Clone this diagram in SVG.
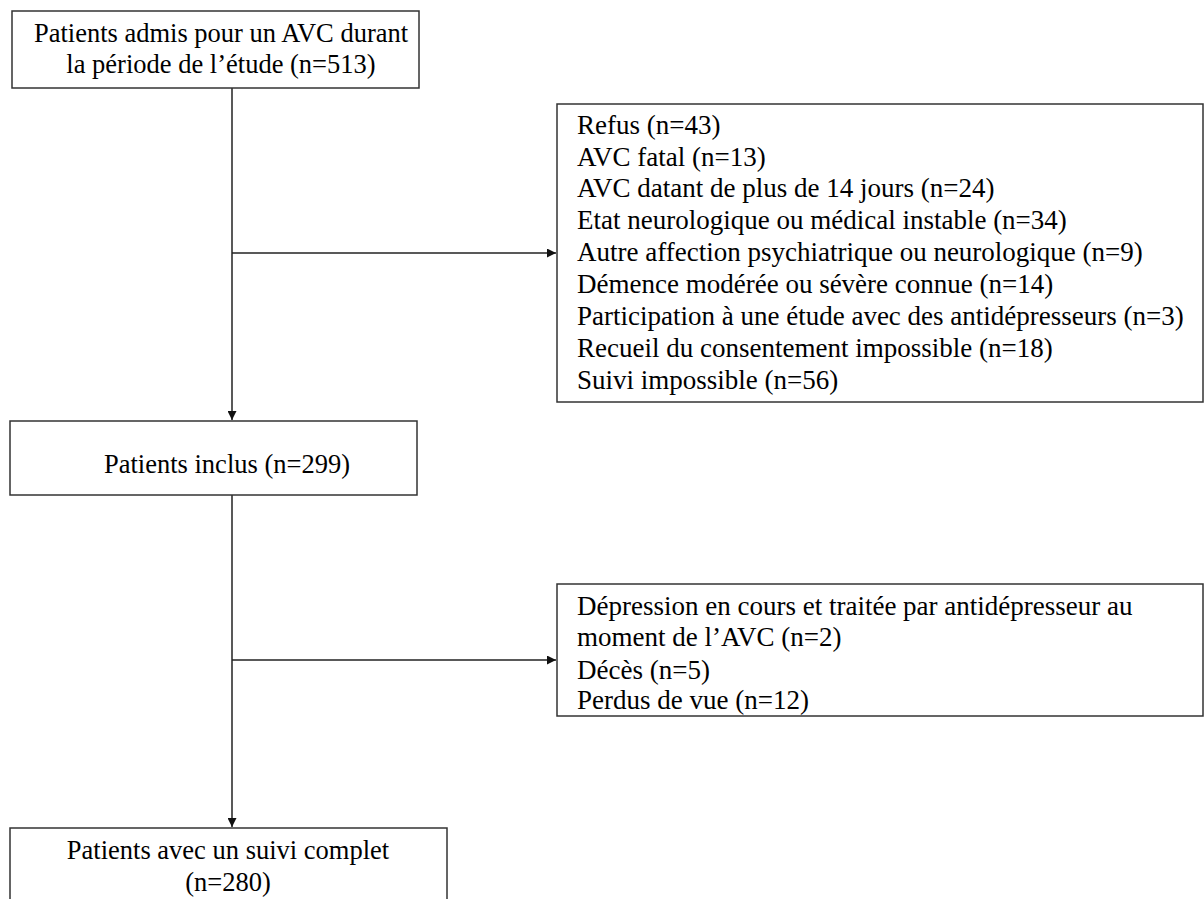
<svg xmlns="http://www.w3.org/2000/svg" width="1204" height="899" viewBox="0 0 1204 899">
<style>
.box{fill:#fff;stroke:#333;stroke-width:1.5}
.t{font-family:"Liberation Serif","Times New Roman",serif;font-size:26.5px;fill:#000}
.l{font-size:27px}
.c{text-anchor:middle}
.ln{stroke:#222;stroke-width:1.5;fill:none}
</style>
<defs>
<marker id="ah" viewBox="0 0 10 10" refX="10" refY="5" markerWidth="9" markerHeight="9" markerUnits="userSpaceOnUse" orient="auto">
<path d="M0,0 L10,5 L0,10 z" fill="#111"/>
</marker>
</defs>
<rect width="1204" height="899" fill="#fff"/>
<g id="connectors">
<line class="ln" x1="232" y1="88" x2="232" y2="420" marker-end="url(#ah)"/>
<line class="ln" x1="232" y1="253" x2="556" y2="253" marker-end="url(#ah)"/>
<line class="ln" x1="232" y1="495" x2="232" y2="827" marker-end="url(#ah)"/>
<line class="ln" x1="232" y1="660" x2="556" y2="660" marker-end="url(#ah)"/>
</g>
<g id="n1">
<rect class="box" x="12" y="11" width="407" height="77"/>
<text class="t c" x="221" y="42">Patients admis pour un AVC durant</text>
<text class="t c" x="221" y="73">la période de l’étude (n=513)</text>
</g>
<g id="n2">
<rect class="box" x="557" y="104" width="646" height="298"/>
<text class="t l" x="577" y="134">Refus (n=43)</text>
<text class="t l" x="577" y="166">AVC fatal (n=13)</text>
<text class="t l" x="577" y="197">AVC datant de plus de 14 jours (n=24)</text>
<text class="t l" x="577" y="229">Etat neurologique ou médical instable (n=34)</text>
<text class="t l" x="577" y="261">Autre affection psychiatrique ou neurologique (n=9)</text>
<text class="t l" x="577" y="293">Démence modérée ou sévère connue (n=14)</text>
<text class="t l" x="577" y="325">Participation à une étude avec des antidépresseurs (n=3)</text>
<text class="t l" x="577" y="357">Recueil du consentement impossible (n=18)</text>
<text class="t l" x="577" y="389">Suivi impossible (n=56)</text>
</g>
<g id="n3">
<rect class="box" x="10" y="421" width="407" height="74"/>
<text class="t c" x="227" y="473">Patients inclus (n=299)</text>
</g>
<g id="n4">
<rect class="box" x="557" y="584" width="646" height="132"/>
<text class="t l" x="577" y="615">Dépression en cours et traitée par antidépresseur au</text>
<text class="t l" x="577" y="646">moment de l’AVC (n=2)</text>
<text class="t l" x="577" y="679">Décès (n=5)</text>
<text class="t l" x="577" y="709">Perdus de vue (n=12)</text>
</g>
<g id="n5">
<rect class="box" x="10" y="828" width="437" height="80"/>
<text class="t c" x="228" y="859">Patients avec un suivi complet</text>
<text class="t c" x="228" y="891">(n=280)</text>
</g>
</svg>
